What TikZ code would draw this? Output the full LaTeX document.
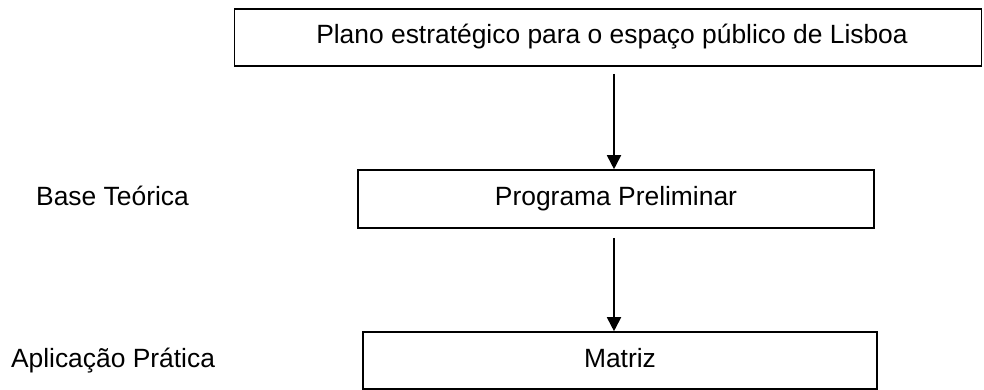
\documentclass[tikz,border=0pt]{standalone}
\usepackage{fontspec}
\setmainfont{Liberation Sans}
\usetikzlibrary{arrows.meta}
\begin{document}
\begin{tikzpicture}[x=1pt,y=-1pt,
  box/.style={draw=black,line width=1.6pt,rectangle,inner sep=0pt,
    font=\fontsize{26.4pt}{30pt}\selectfont,text height=19pt,text depth=6pt},
  lbl/.style={font=\fontsize{26.4pt}{30pt}\selectfont,inner sep=0pt,anchor=base},
  arr/.style={line width=1.8pt,-{Triangle[length=14pt,width=14pt]}}]
\useasboundingbox (0,0) rectangle (984,390);
\node[box,minimum width=747pt,minimum height=57pt] (top) at (608,37.5) {\hspace*{8pt}Plano estratégico para o espaço público de Lisboa};
\node[box,minimum width=516pt,minimum height=58pt] (mid) at (616,199) {Programa Preliminar};
\node[box,minimum width=514pt,minimum height=57pt] (bot) at (620,360.5) {Matriz};
\node[lbl] (base) at (112.5,205) {Base Teórica};
\node[lbl] (aplic) at (113,367) {Aplicação Prática};
\coordinate (ax) at (614,0);
\draw[arr] ([yshift=-7pt]top.south -| ax) -- (mid.north -| ax);
\draw[arr] ([yshift=-9pt]mid.south -| ax) -- (bot.north -| ax);
\end{tikzpicture}
\end{document}
